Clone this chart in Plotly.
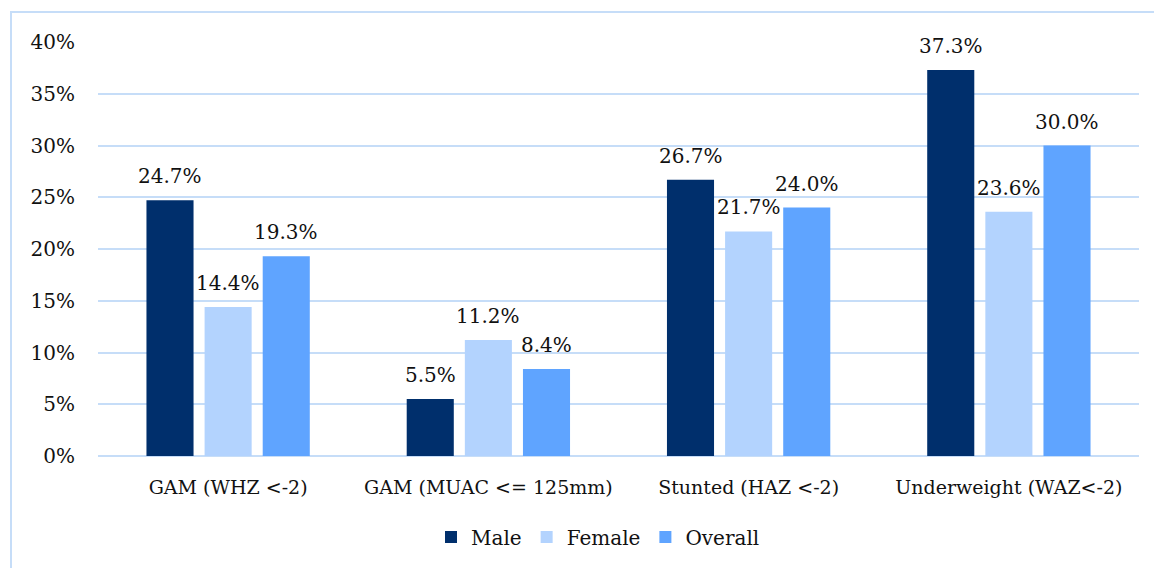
import plotly.graph_objects as go

categories = ["GAM (WHZ <-2)", "GAM (MUAC <= 125mm)", "Stunted (HAZ <-2)", "Underweight (WAZ<-2)"]
male = [24.7, 5.5, 26.7, 37.3]
female = [14.4, 11.2, 21.7, 23.6]
overall = [19.3, 8.4, 24.0, 30.0]
y_ticks = [0, 5, 10, 15, 20, 25, 30, 35, 40]

FONT = "DejaVu Serif"
TEXT = "#111111"
series = [
    ("Male", male, "#002F6C"),
    ("Female", female, "#B3D3FE"),
    ("Overall", overall, "#5FA4FF"),
]

W, H = 1154, 568
L, R, T, B = 98, 15, 42, 112
pw, ph = W - L - R, H - T - B
BAR_PITCH = 58  # px between neighbouring bars within a group

def px_x(p):
    return (p - L) / pw

def px_y(p):
    return (H - B - p) / ph

fig = go.Figure()
annotations = []
for i, (name, vals, color) in enumerate(series):
    fig.add_trace(go.Bar(
        name=name,
        x=categories,
        y=[v / 100 for v in vals],
        marker=dict(color=color, line=dict(width=0)),
    ))
    # value labels sitting above each bar
    for cat, v in zip(categories, vals):
        annotations.append(dict(
            x=cat, y=v / 100, xref="x", yref="y",
            text=f"{v:.1f}%", showarrow=False,
            xshift=(i - 1) * BAR_PITCH, yshift=24,
            yanchor="middle", xanchor="center",
            font=dict(family=FONT, size=20, color=TEXT),
        ))

fig.update_layout(
    width=W, height=H,
    margin=dict(l=L, r=R, t=T, b=B),
    paper_bgcolor="white",
    plot_bgcolor="white",
    barmode="group",
    bargap=0.33,
    bargroupgap=0.19,
    font=dict(family=FONT, size=19, color=TEXT),
    legend=dict(
        orientation="h",
        x=px_x(598), xanchor="center",
        y=px_y(537), yanchor="middle",
        font=dict(family=FONT, size=20, color=TEXT),
        itemwidth=30,
        traceorder="normal",
    ),
    xaxis=dict(
        showgrid=False,
        showline=False,
        ticks="",
        ticklabelstandoff=18,
        tickfont=dict(family=FONT, size=19, color=TEXT),
    ),
    yaxis=dict(
        range=[0, 0.40],
        tickvals=[t / 100 for t in y_ticks],
        ticktext=[f"{t}%" for t in y_ticks],
        showgrid=True,
        gridcolor="#C6DDF8",
        gridwidth=2,
        zeroline=True,
        zerolinecolor="#C6DDF8",
        zerolinewidth=2,
        showline=False,
        ticks="",
        ticklabelstandoff=22,
        tickfont=dict(family=FONT, size=20, color=TEXT),
    ),
    annotations=annotations,
    shapes=[dict(
        type="rect", xref="paper", yref="paper",
        x0=px_x(11), x1=px_x(1160), y0=px_y(580), y1=px_y(12),
        line=dict(color="#C6DDF8", width=2),
        fillcolor="rgba(0,0,0,0)",
        layer="below",
    )],
)

fig.write_html("out.html")
